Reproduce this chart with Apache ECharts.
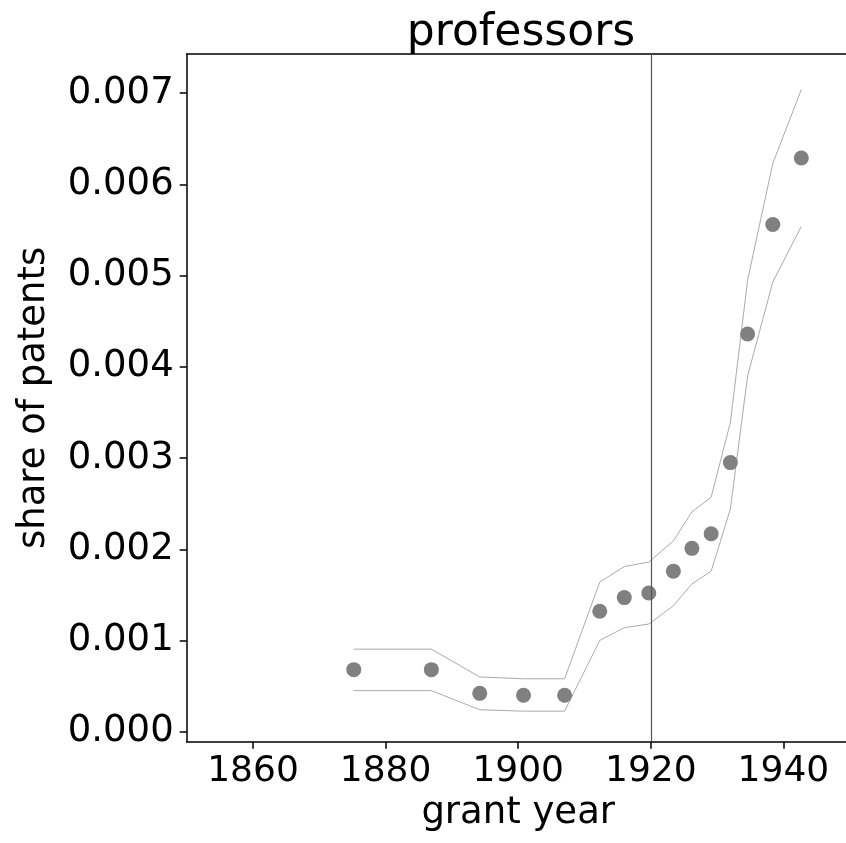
<!DOCTYPE html>
<html>
<head>
<meta charset="utf-8">
<script src="https://cdn.jsdelivr.net/npm/echarts@6/dist/echarts.min.js"></script>
<style>html,body{margin:0;padding:0;background:#fff;overflow:hidden;}#c{width:846px;height:843px;}</style>
</head>
<body>
<div id="c"></div>
<script>
const years = [1875.2, 1886.9, 1894.2, 1900.8, 1907.0, 1912.3, 1916.0, 1919.7, 1923.4, 1926.2, 1929.1, 1932.0, 1934.6, 1938.4, 1942.7];
const share = [0.00068, 0.00068, 0.00042, 0.00040, 0.00040, 0.00132, 0.00147, 0.00152, 0.00176, 0.00201, 0.00217, 0.00295, 0.00436, 0.00556, 0.00629];
const upper = [0.000905, 0.000905, 0.00060, 0.00058, 0.00058, 0.00164, 0.00181, 0.00186, 0.00209, 0.00241, 0.00257, 0.00339, 0.00495, 0.00623, 0.00704];
const lower = [0.00045, 0.00045, 0.00024, 0.000225, 0.000225, 0.00100, 0.00114, 0.00118, 0.00138, 0.00162, 0.00176, 0.00244, 0.00390, 0.00493, 0.00554];
const xTicks = [1860, 1880, 1900, 1920, 1940];
const yTicks = [0, 0.001, 0.002, 0.003, 0.004, 0.005, 0.006, 0.007];
const cutoffYear = 1920;

const FONT = 'DejaVu Sans';
const chart = echarts.init(document.getElementById('c'));
const pair = (xs, ys) => xs.map((x, i) => [x, ys[i]]);
chart.setOption({
  animation: false,
  backgroundColor: '#fff',
  title: {
    text: 'professors', left: 516, top: 7, textAlign: 'center',
    textStyle: { fontFamily: FONT, fontSize: 44, fontWeight: 'normal', color: '#000' }
  },
  grid: { left: 186.7, top: 54, width: 663, height: 687.7, show: false, outerBoundsMode: 'none' },
  xAxis: [{
    type: 'value', min: 1850, max: 1950, position: 'bottom',
    name: 'grant year', nameLocation: 'middle', nameGap: 48,
    nameTextStyle: { fontFamily: FONT, fontSize: 37, color: '#000', verticalAlign: 'top' },
    axisLine: { show: true, onZero: false, lineStyle: { color: '#000', width: 1.5 } },
    axisTick: { show: true, length: 7, lineStyle: { color: '#000', width: 1.5 }, customValues: xTicks },
    axisLabel: { fontFamily: FONT, fontSize: 36, color: '#000', margin: 12, customValues: xTicks, formatter: v => String(v) },
    splitLine: { show: false }
  }, {
    type: 'value', min: 1850, max: 1950, position: 'top',
    axisLine: { show: true, onZero: false, lineStyle: { color: '#000', width: 1.5 } },
    axisTick: { show: false }, axisLabel: { show: false }, splitLine: { show: false }
  }],
  yAxis: {
    type: 'value', min: -0.00011, max: 0.00743,
    name: 'share of patents', nameLocation: 'middle', nameGap: 134,
    nameTextStyle: { fontFamily: FONT, fontSize: 37, color: '#000' },
    axisLine: { show: true, onZero: false, lineStyle: { color: '#000', width: 1.5 } },
    axisTick: { show: true, length: 7, lineStyle: { color: '#000', width: 1.5 }, customValues: yTicks },
    axisLabel: { fontFamily: FONT, fontSize: 37, color: '#000', margin: 13, customValues: yTicks, formatter: v => v.toFixed(3) },
    splitLine: { show: false }
  },
  graphic: [{
    type: 'rect', z: 100, silent: true,
    shape: { x: 840, y: 56, width: 6, height: 684 },
    style: { fill: '#fff' }
  }],
  series: [
    {
      type: 'line', data: pair(years, upper), showSymbol: false, symbol: 'none',
      lineStyle: { color: '#a0a0a0', width: 0.9 }, z: 2,
      markLine: {
        silent: true, symbol: 'none', label: { show: false },
        lineStyle: { color: '#555', width: 1.2, type: 'solid' },
        data: [{ xAxis: cutoffYear }]
      }
    },
    {
      type: 'line', data: pair(years, lower), showSymbol: false, symbol: 'none',
      lineStyle: { color: '#a0a0a0', width: 0.9 }, z: 2
    },
    {
      type: 'scatter', data: pair(years, share), symbolSize: 15,
      itemStyle: { color: '#808080', opacity: 1 }, z: 3
    }
  ]
});
</script>
</body>
</html>
